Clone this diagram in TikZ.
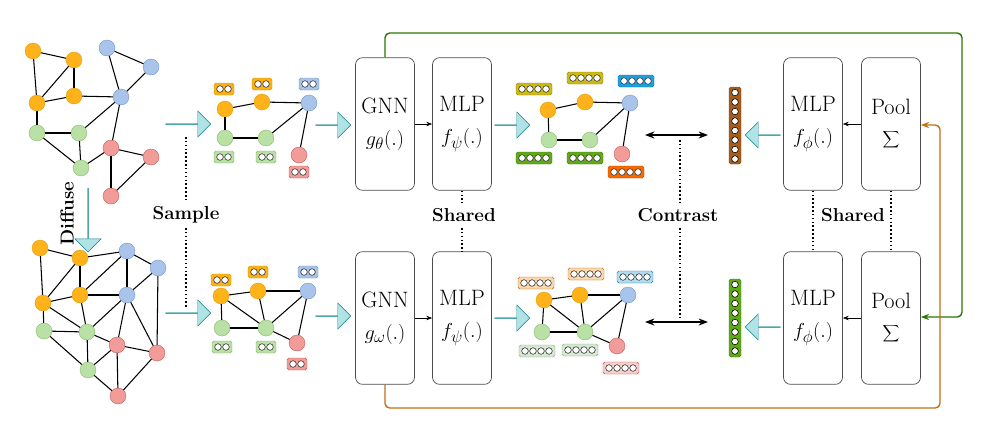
\documentclass[tikz,border=0pt]{standalone}
\usetikzlibrary{arrows.meta,shapes.arrows}
\definecolor{orF}{HTML}{FFB21A}\definecolor{orD}{HTML}{D79B00}
\definecolor{blF}{HTML}{A9C4EB}\definecolor{blD}{HTML}{6C8EBF}
\definecolor{grF}{HTML}{B9E0A5}\definecolor{grD}{HTML}{82B366}
\definecolor{rdF}{HTML}{F19C99}\definecolor{rdD}{HTML}{B85450}
\definecolor{cyF}{HTML}{B0E3E6}\definecolor{cyD}{HTML}{0E8088}
\definecolor{yeE}{HTML}{CDBB14}\definecolor{blE}{HTML}{1BA1E2}
\definecolor{grE}{HTML}{60A917}\definecolor{rdE}{HTML}{FA6800}
\definecolor{brE}{HTML}{A65C1C}
\definecolor{loF}{HTML}{FAD7AC}\definecolor{loD}{HTML}{B46504}
\definecolor{lbF}{HTML}{B1DDF0}\definecolor{lbD}{HTML}{10739E}
\definecolor{lgF}{HTML}{D5E8D4}\definecolor{lrF}{HTML}{F8CECC}
\definecolor{lineG}{HTML}{2D7600}\definecolor{lineO}{HTML}{C46F12}
\tikzset{
 v/.style={circle,inner sep=0pt,draw=#1D,fill=#1F,minimum size=0.48cm,line width=0.3pt},
 ed/.style={line width=0.9pt},
 blk/.style={draw=black!70,rounded corners=6pt,minimum width=1.77cm,minimum height=3.98cm,align=center,line width=0.6pt,font=\fontsize{19}{23}\selectfont},
 carrow/.style={single arrow,draw=cyD,fill=cyF,minimum height=#1,single arrow head extend=0.17cm,minimum width=0.78cm,inner sep=0pt},
 lbl/.style={font=\fontsize{16}{18}\selectfont\bfseries},
 dots/.style={dotted,line width=1.3pt},
}
\newcommand\embox[5]{% x y n fill draw
 \pgfmathsetmacro\bw{#3*8+4}
 \draw[fill=#4,draw=#5,rounded corners=1.5pt] ({#1-\bw/2},{#2-6}) rectangle ({#1+\bw/2},{#2+6});
 \foreach \k in {1,...,#3}{\draw[fill=white,draw=black!80,line width=0.5pt] ({#1-\bw/2+2+8*\k-4},#2) circle (3.3);}
}
\newcommand\bigsum{{\fontsize{30}{30}\selectfont$\displaystyle\sum$}}
\begin{document}
\begin{tikzpicture}[x=0.03cm,y=-0.03cm]
\useasboundingbox (0,0) rectangle (1000,436);
% ---- G1
\foreach \n/\x/\y/\c in {a/33/51/or,b/74/60/or,c/37/103/or,d/74/96/or,e/107/48/bl,f/151/67/bl,g/121/97/bl,h/37/133/gr,i/79/133/gr,j/81/168/gr,k/111/148/rd,l/151/157/rd,m/111/196/rd}
 \node[v=\c] (g1\n) at (\x,\y) {};
\foreach \p/\q in {a/b,a/c,b/c,b/d,c/d,d/g,e/g,e/f,f/g,c/h,h/i,h/j,i/j,g/i,g/k,j/k,k/l,k/m,l/m}
 \draw[ed] (g1\p)--(g1\q);
\foreach \n/\x/\y/\c in {A/40/248/or,B/80/258/or,C/127/251/bl,D/158/268/bl,E/43/303/or,F/80/295/or,G/127/295/bl,H/44/331/gr,I/87/332/gr,J/117/345/rd,K/157/353/rd,L/88/370/gr,M/118/396/rd}
 \node[v=\c] (g2\n) at (\x,\y) {};
\foreach \p/\q in {A/B,A/E,B/C,B/F,B/E,C/D,C/F,C/G,D/G,D/K,E/F,E/H,E/I,F/G,F/I,G/I,G/J,G/K,H/I,H/L,I/J,I/L,J/K,J/L,J/M,K/M,L/M}
 \draw[ed] (g2\p)--(g2\q);
\node[carrow=1.9cm,rotate=-90] (dif) at (88,220) {};
\node[lbl,rotate=90] (diflab) at (67,214) {Diffuse};
% ---- sampled graphs
\foreach \n/\x/\y/\c in {p/225/109/or,q/262/102/or,r/309/103/bl,s/225/138/gr,t/266/138/gr,u/299/155/rd}
 \node[v=\c] (s1\n) at (\x,\y) {};
\foreach \p/\q in {p/q,q/r,p/s,s/t,t/r,r/u} \draw[ed] (s1\p)--(s1\q);
\foreach \n/\x/\y/\c in {p/221/296/or,q/258/291/or,r/308/291/bl,s/222/328/gr,t/266/328/gr,u/297/343/rd}
 \node[v=\c] (s2\n) at (\x,\y) {};
\foreach \p/\q in {p/q,q/r,p/s,p/t,q/t,s/t,t/r,t/u,r/u} \draw[ed] (s2\p)--(s2\q);
\embox{224}{89}{2}{orF!90!orD}{orD}\embox{262}{84}{2}{orF!90!orD}{orD}\embox{309}{84}{2}{blF}{blD}
\embox{224}{157}{2}{grF}{grD}\embox{266}{157}{2}{grF}{grD}\embox{299}{172}{2}{rdF}{rdD}
\embox{221}{280}{2}{orF!90!orD}{orD}\embox{258}{272}{2}{orF!90!orD}{orD}\embox{308}{272}{2}{blF}{blD}
\embox{222}{347}{2}{grF}{grD}\embox{266}{347}{2}{grF}{grD}\embox{297}{364}{2}{rdF}{rdD}
\draw[dots] (186,137)--(186,202); \draw[dots] (186,228)--(186,307);
\node[lbl] (samp) at (186,215) {Sample};
% ---- arrows
\node[carrow=1.35cm] (ar1) at (188,124) {};
\node[carrow=1.35cm] (ar2) at (188,313) {};
\node[carrow=1.05cm] (ar3) at (333,125) {};
\node[carrow=1.05cm] (ar4) at (333,316) {};
\node[carrow=1.05cm] (ar5) at (512,125) {};
\node[carrow=1.05cm] (ar6) at (512,318) {};
\node[carrow=1.05cm,shape border rotate=180] (ar7) at (763,135) {};
\node[carrow=1.05cm,shape border rotate=180] (ar8) at (763,327) {};
% ---- blocks
\node[blk] (gnn1) at (385,124) {GNN\\[4pt]$g_\theta(.)$};
\node[blk] (mlp1) at (462,124) {MLP\\[4pt]$f_\psi(.)$};
\node[blk] (gnn2) at (385,318) {GNN\\[4pt]$g_\omega(.)$};
\node[blk] (mlp2) at (462,318) {MLP\\[4pt]$f_\psi(.)$};
\node[blk] (rmlp1) at (813,124) {MLP\\[4pt]$f_\phi(.)$};
\node[blk] (pool1) at (891,124) {Pool\\[4pt]\bigsum};
\node[blk] (rmlp2) at (813,318) {MLP\\[4pt]$f_\phi(.)$};
\node[blk] (pool2) at (891,318) {Pool\\[4pt]\bigsum};
\draw[-{Stealth[length=5pt]},line width=0.5pt] (gnn1)--(mlp1);
\draw[-{Stealth[length=5pt]},line width=0.5pt] (gnn2)--(mlp2);
\draw[-{Stealth[length=5pt]},line width=0.5pt] (pool1)--(rmlp1);
\draw[-{Stealth[length=5pt]},line width=0.5pt] (pool2)--(rmlp2);
\draw[dots] (mlp1.south)--(462,203); \draw[dots] (462,228)--(mlp2.north);
\node[lbl] (sh1) at (464,215) {Shared};
\draw[dots] (rmlp1.south)--(rmlp2.north); \draw[dots] (pool1.south)--(pool2.north);
\node[lbl] (sh2) at (853,215) {Shared};
% ---- embedded graphs
\foreach \n/\x/\y/\c in {p/548/110/or,q/585/102/or,r/630/103/bl,s/549/140/gr,t/590/140/gr,u/622/154/rd}
 \node[v=\c] (e1\n) at (\x,\y) {};
\foreach \p/\q in {p/q,q/r,p/s,s/t,t/r,r/u} \draw[ed] (e1\p)--(e1\q);
\foreach \n/\x/\y/\c in {p/544/300/or,q/580/295/or,r/628/295/bl,s/542/332/gr,t/585/332/gr,u/617/346/rd}
 \node[v=\c] (e2\n) at (\x,\y) {};
\foreach \p/\q in {p/q,q/r,p/s,p/t,q/t,s/t,t/r,t/u,r/u} \draw[ed] (e2\p)--(e2\q);
\embox{534}{89}{4}{yeE}{yeE!70!black}\embox{585}{78}{4}{yeE}{yeE!70!black}\embox{636}{81}{4}{blE}{blE!70!black}
\embox{534}{158}{4}{grE}{grE!70!black}\embox{585}{158}{4}{grE}{grE!70!black}\embox{626}{172}{4}{rdE}{rdE!70!black}
\embox{536}{283}{4}{loF}{loD}\embox{586}{274}{4}{loF}{loD}\embox{635}{277}{4}{lbF}{lbD}
\embox{537}{351}{4}{lgF}{grD}\embox{580}{350}{4}{lgF}{grD}\embox{621}{368}{4}{lrF}{rdD}
% ---- contrast
\coordinate (c1a) at (645,135); \coordinate (c1b) at (708,135);
\coordinate (c2a) at (645,322); \coordinate (c2b) at (708,322);
\draw[{Stealth[length=8pt]}-{Stealth[length=8pt]},line width=1.2pt] (c1a)--(c1b);
\draw[{Stealth[length=8pt]}-{Stealth[length=8pt]},line width=1.2pt] (c2a)--(c2b);
\draw[dots] (680,140)--(680,203); \draw[dots] (680,228)--(680,318);
\node[lbl] (con) at (678,215) {Contrast};
% vertical bars
\draw[fill=brE,draw=brE!70!black,rounded corners=1.5pt] (729,87) rectangle (741,164);
\foreach \k in {0,...,7} \draw[fill=white,line width=0.5pt] (735,{92.5+\k*9.5}) circle (3.3);
\draw[fill=grE,draw=grE!70!black,rounded corners=1.5pt] (729,279) rectangle (741,357);
\foreach \k in {0,...,7} \draw[fill=white,line width=0.5pt] (735,{284.5+\k*9.5}) circle (3.3);
% ---- feedback lines
\coordinate (gt1) at (962,33); \coordinate (gt2) at (962,317);
\draw[lineG,line width=1.2pt,rounded corners=4pt,-{Stealth[length=7pt]}] (gnn1.north)|-(gt1)--(gt2)--(pool2.east|-gt2);
\coordinate (ot1) at (940,408); \coordinate (ot2) at (940,125);
\draw[lineO,line width=1.2pt,rounded corners=4pt,-{Stealth[length=7pt]}] (gnn2.south)|-(ot1)--(ot2)--(pool1.east|-ot2);
\end{tikzpicture}
\end{document}
